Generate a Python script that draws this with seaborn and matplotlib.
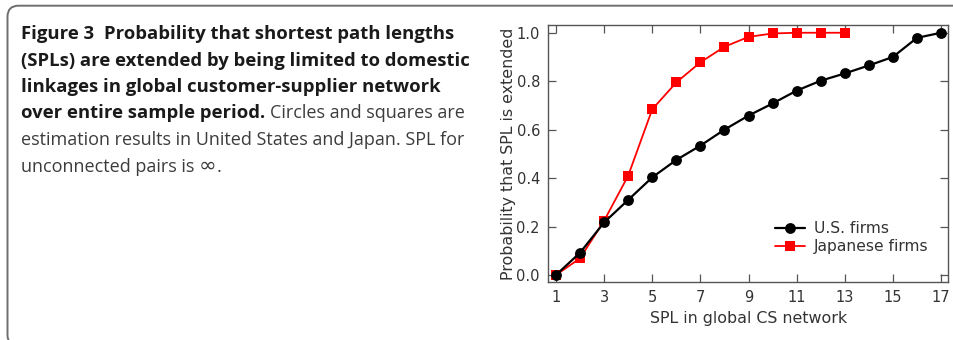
import numpy as np
import pandas as pd
import matplotlib
matplotlib.use("Agg")
import matplotlib.pyplot as plt
import seaborn as sns
from matplotlib.patches import FancyBboxPatch
from matplotlib.transforms import IdentityTransform
from matplotlib.lines import Line2D

# SPL in the global customer-supplier network
spl_us = list(range(1, 18))
prob_us = [0.0, 0.092, 0.217, 0.31, 0.403, 0.475, 0.534, 0.60, 0.658, 0.708,
           0.761, 0.802, 0.832, 0.865, 0.90, 0.979, 1.0]
spl_jp = list(range(1, 14))
prob_jp = [0.0, 0.069, 0.224, 0.41, 0.684, 0.795, 0.878, 0.942, 0.983, 0.997,
           1.0, 1.0, 1.0]
series_names = ["U.S. firms", "Japanese firms"]
x_ticks = [1, 3, 5, 7, 9, 11, 13, 15, 17]
y_ticks = [0.0, 0.2, 0.4, 0.6, 0.8, 1.0]

# caption runs: (text, weight)
caption_lines = [
    [("Figure 3", "bold"), ("  Probability that shortest path lengths", "bold")],
    [("(SPLs) are extended by being limited to domestic", "bold")],
    [("linkages in global customer-supplier network", "bold")],
    [("over entire sample period.", "bold"), (" Circles and squares are", "normal")],
    [("estimation results in United States and Japan. SPL for", "normal")],
    [("unconnected pairs is ", "normal"), ("\u221e", "symbol"), (".", "normal")],
]

sns.set_style("white")
plt.rcParams["font.family"] = ["DejaVu Sans"]

W, H = 954, 340
fig = plt.figure(figsize=(W / 100, H / 100), dpi=100)

# panel frame with rounded corners
frame = FancyBboxPatch((7.5, -6), 1000, 340 - 5.7 + 6,
                       boxstyle="round,pad=0,rounding_size=11",
                       transform=IdentityTransform(), fill=False,
                       edgecolor="#6e6e6e", linewidth=1.4)
fig.patches.append(frame)

# caption, laid out run by run
renderer = fig.canvas.get_renderer()
cap_family = ["Open Sans", "DejaVu Sans"]
bold_size = 13.3
regular_size = 13.0


def run_style(weight):
    if weight == "symbol":
        return dict(fontsize=regular_size * 1.18, family=["DejaVu Sans"], weight="normal",
                    color="#3c3c3c")
    if weight == "bold":
        return dict(fontsize=bold_size, family=cap_family, weight="bold", color="#1a1a1a")
    return dict(fontsize=regular_size, family=cap_family, weight="normal", color="#3c3c3c")


def width_of(s, style):
    t = fig.text(0, 0, s, **style)
    w = t.get_window_extent(renderer).width
    t.remove()
    return w


x0 = 21
baseline0 = 39
line_gap = 26.5
for i, runs in enumerate(caption_lines):
    x = x0
    ybase = H - (baseline0 + i * line_gap)
    for text, weight in runs:
        style = run_style(weight)
        lead = len(text) - len(text.lstrip(" "))
        trail = len(text) - len(text.rstrip(" "))
        body = text.strip(" ")
        sp = width_of("a a", style) - width_of("aa", style)
        x += sp * lead
        t = fig.text(x / W, ybase / H, body, va="baseline", ha="left", **style)
        x += t.get_window_extent(renderer).width + sp * trail

# chart
ax = fig.add_axes([548.3 / W, 1 - 281.7 / H, (948 - 548.3) / W, (281.7 - 25) / H])
df_us = pd.DataFrame({"spl": spl_us, "prob": prob_us})
df_jp = pd.DataFrame({"spl": spl_jp, "prob": prob_jp})
sns.lineplot(data=df_jp, x="spl", y="prob", ax=ax, color="#ff0000", linewidth=1.3,
             marker="s", markersize=7.6, markeredgewidth=0, markerfacecolor="#ff0000")
sns.lineplot(data=df_us, x="spl", y="prob", ax=ax, color="black", linewidth=1.6,
             marker="o", markersize=7.8, markeredgewidth=0, markerfacecolor="black")

ax.set_xlim(0.68, 17.29)
ax.set_ylim(-0.0277, 1.032)
ax.set_xticks(x_ticks)
ax.set_yticks(y_ticks)
ax.set_yticklabels([f"{v:.1f}" for v in y_ticks])
ax.tick_params(direction="in", length=6, width=0.9, color="#555555",
               top=True, right=True, bottom=True, left=True,
               labelsize=10.5, labelcolor="#333333", pad=6)
for s in ax.spines.values():
    s.set_color("#555555")
    s.set_linewidth(1.0)
ax.set_xlabel("SPL in global CS network", fontsize=11.4, color="#333333", labelpad=4)
ax.set_ylabel("Probability that SPL is extended", fontsize=11.4, color="#333333", labelpad=0.5)

handles = [
    Line2D([], [], color="black", linewidth=1.6, marker="o", markersize=7.8, markeredgewidth=0),
    Line2D([], [], color="#ff0000", linewidth=1.3, marker="s", markersize=7.6, markeredgewidth=0),
]
leg = ax.legend(handles, series_names, loc="center left",
                bbox_to_anchor=((775 - 548.3) / 399.7, (281.7 - 237.5) / 256.7),
                frameon=False, fontsize=11.2, handlelength=1.9, handletextpad=0.6,
                labelspacing=0.2, borderaxespad=0, borderpad=0)
for t in leg.get_texts():
    t.set_color("#333333")

fig.savefig("out.png", dpi=100)
